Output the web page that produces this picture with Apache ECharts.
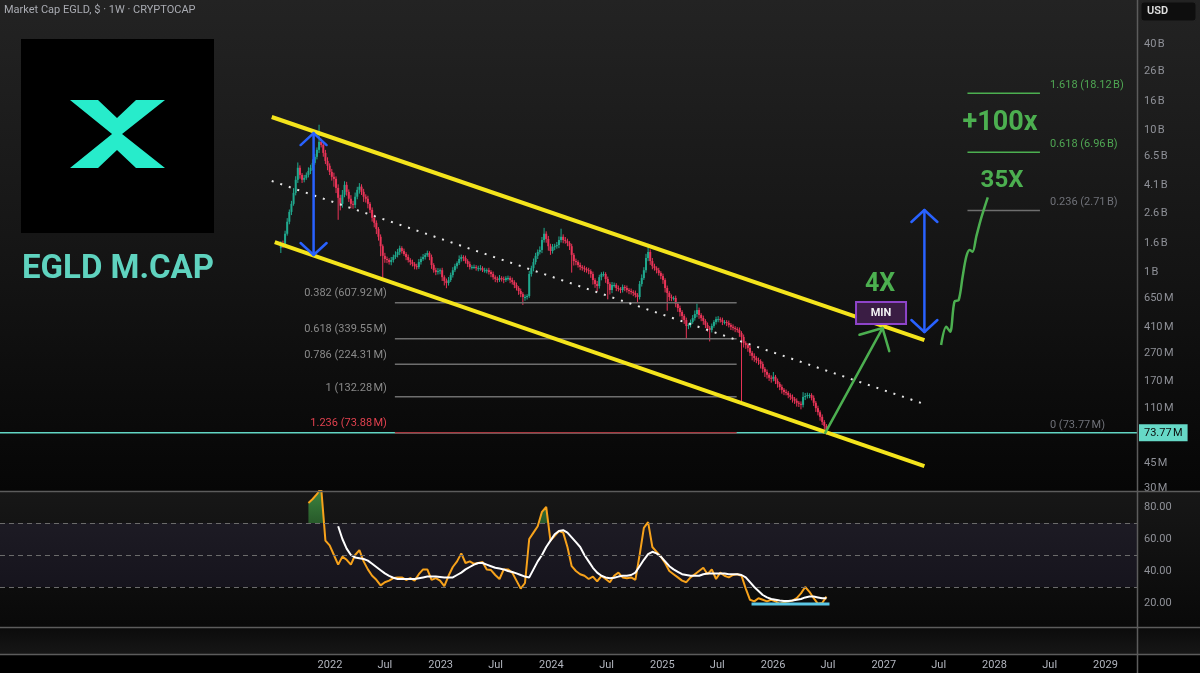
<!DOCTYPE html>
<html>
<head>
<meta charset="utf-8">
<title>EGLD M.CAP</title>
<script src="https://cdn.jsdelivr.net/npm/echarts@6/dist/echarts.min.js"></script>
<style>
  html, body { margin: 0; padding: 0; background: #000; }
  #chart { width: 1200px; height: 673px; }
</style>
</head>
<body>
<div id="chart"></div>
<script>
// weekly candles, market cap in millions of USD
var firstWeek = '2021-07-23';
var firstOpen = 1480;
var closes = [
  1600, 1550, 1860, 2260, 2650, 3020, 3610, 4460, 5420, 4830,
  4460, 4600, 4830, 5150, 5420, 5870, 6470, 7250, 8250, 7850,
  6900, 6060, 5600, 5070, 4680, 4530, 3910, 3330, 3020, 3500,
  4110, 3670, 3280, 3020, 2970, 3390, 3790, 3990, 3670, 3390,
  3280, 3020, 2740, 2410, 2220, 2010, 1770, 1520, 1300, 1235,
  1215, 1175, 1215, 1275, 1320, 1385, 1475, 1405, 1340, 1275,
  1215, 1175, 1140, 1100, 1085, 1175, 1235, 1275, 1320, 1360,
  1275, 1120, 1030, 1000, 1015, 1030, 920, 865, 836, 878,
  952, 1030, 1100, 1155, 1235, 1275, 1255, 1195, 1140, 1085,
  1085, 1085, 1065, 1065, 1065, 1030, 1030, 1030, 1000, 968,
  920, 893, 878, 907, 893, 878, 907, 907, 878, 850,
  810, 772, 735, 700, 667, 667, 678, 968, 1065, 1175,
  1300, 1385, 1430, 1680, 1860, 1710, 1520, 1405, 1500, 1520,
  1550, 1680, 1770, 1680, 1650, 1600, 1520, 1320, 1195, 1175,
  1120, 1085, 1065, 1050, 1030, 1015, 968, 878, 823, 797,
  920, 968, 968, 893, 823, 747, 810, 810, 772, 760,
  747, 785, 772, 747, 735, 723, 712, 689, 667, 823,
  907, 1030, 1255, 1385, 1195, 1100, 1065, 1030, 984, 937,
  878, 772, 712, 667, 656, 656, 595, 558, 523, 490,
  459, 417, 424, 445, 474, 506, 540, 498, 474, 452,
  424, 404, 391, 417, 445, 466, 466, 459, 445, 445,
  438, 424, 411, 404, 397, 391, 372, 349, 316, 306,
  292, 270, 257, 248, 240, 236, 225, 208, 198, 189,
  180, 177, 183, 171, 163, 155, 148, 143, 141, 136,
  132, 128, 124, 120, 118, 116, 132, 134, 136, 136,
  130, 120, 110, 103, 95.5, 88, 82.5, 73.77
];
// wick length beyond the body, in percent
var wickUp = [
  3, 4, 5, 6, 4, 5, 8, 6, 9, 4,
  3, 5, 4, 6, 5, 6, 5, 4, 32, 5,
  4, 5, 6, 4, 5, 7, 4, 6, 5, 8,
  6, 5, 4, 6, 5, 7, 5, 6, 4, 5,
  4, 5, 3, 4, 5, 4, 3, 4, 3, 5,
  4, 3, 5, 4, 6, 5, 4, 3, 4, 3,
  4, 3, 4, 3, 4, 5, 4, 5, 3, 4,
  3, 4, 3, 4, 5, 3, 4, 3, 4, 5,
  4, 5, 4, 3, 6, 4, 3, 4, 3, 4,
  3, 4, 3, 4, 5, 3, 4, 3, 4, 3,
  4, 3, 4, 5, 3, 4, 3, 4, 3, 4,
  3, 4, 3, 4, 3, 4, 3, 5, 4, 6,
  5, 4, 6, 5, 10, 4, 5, 4, 5, 4,
  5, 6, 14, 4, 5, 4, 3, 4, 3, 4,
  3, 4, 3, 4, 3, 4, 3, 4, 3, 5,
  4, 3, 4, 3, 4, 3, 5, 4, 3, 4,
  3, 4, 3, 4, 3, 4, 3, 4, 3, 5,
  6, 5, 7, 14, 4, 5, 4, 3, 4, 3,
  4, 3, 4, 3, 4, 3, 4, 3, 4, 3,
  3, 4, 3, 4, 5, 6, 11, 4, 3, 4,
  3, 4, 3, 4, 3, 4, 5, 3, 4, 3,
  3, 4, 3, 4, 3, 3, 4, 3, 4, 3,
  3, 4, 3, 4, 3, 4, 3, 4, 3, 4,
  3, 4, 8, 3, 4, 3, 4, 3, 4, 3,
  3, 4, 3, 4, 3, 4, 8, 5, 4, 3,
  3, 4, 3, 4, 3, 4, 3, 3
];
var wickDown = [
  8, 5, 4, 3, 4, 5, 3, 4, 5, 6,
  5, 4, 3, 4, 5, 4, 3, 4, 5, 4,
  6, 5, 7, 5, 6, 12, 8, 30, 10, 6,
  4, 6, 5, 7, 6, 5, 4, 6, 5, 8,
  6, 7, 5, 6, 7, 8, 6, 15, 30, 6,
  5, 4, 5, 4, 3, 4, 5, 4, 3, 5,
  4, 5, 4, 5, 4, 3, 4, 3, 4, 3,
  5, 6, 4, 5, 4, 5, 6, 7, 8, 4,
  3, 4, 3, 4, 3, 4, 5, 4, 5, 4,
  4, 3, 4, 5, 4, 3, 4, 5, 4, 5,
  4, 5, 4, 3, 4, 5, 3, 4, 5, 4,
  5, 4, 6, 5, 12, 6, 4, 3, 4, 5,
  4, 5, 4, 5, 4, 6, 7, 6, 4, 5,
  4, 5, 4, 5, 4, 5, 6, 25, 7, 5,
  4, 5, 4, 5, 4, 5, 6, 7, 6, 8,
  4, 5, 4, 6, 22, 7, 5, 4, 5, 4,
  5, 4, 5, 4, 5, 4, 5, 4, 9, 4,
  4, 3, 4, 5, 6, 5, 4, 5, 4, 5,
  6, 7, 25, 6, 5, 4, 5, 6, 7, 6,
  6, 18, 5, 4, 3, 4, 5, 6, 5, 6,
  5, 6, 17, 4, 3, 4, 5, 4, 5, 4,
  5, 4, 5, 4, 5, 4, 6, 65, 7, 6,
  6, 5, 7, 6, 5, 6, 7, 6, 8, 6,
  5, 6, 4, 5, 6, 5, 6, 5, 4, 5,
  5, 6, 5, 6, 5, 7, 4, 5, 4, 5,
  4, 5, 6, 5, 6, 5, 6, 3
];

// RSI (orange) read every 2 weeks, starting at candle 13
var rsiStart = 13;
var rsiValues = [
  82.5, 85, 88, 92, 59, 56, 50, 44, 49, 47,
  44, 50, 53, 46, 41, 37, 34.5, 31, 33, 34,
  35.6, 36, 36, 34.4, 35.5, 34, 38, 41, 41, 34.4,
  35.6, 34, 30.5, 37, 42.5, 46, 51, 45, 46, 44.5,
  45, 45.6, 41, 40.6, 37.5, 35, 41, 41, 39, 34,
  29, 32.5, 60, 64, 68, 77, 80, 59, 62, 65,
  64, 55, 43, 40, 38, 37, 35, 36.5, 33.5, 37,
  35, 33, 37, 39, 36, 35.5, 36, 34.5, 50, 67,
  70.5, 55, 52, 49, 45, 40, 38, 36, 34, 33,
  36, 38, 40, 42, 38, 41, 35, 39, 37, 36,
  37.5, 38, 37, 29, 22, 21, 23, 22, 21, 22,
  21, 19.5, 20.5, 21, 21.5, 23, 26, 30, 27, 23,
  19.5, 20, 24
];
// RSI moving average (white), same spacing, starting at the 8th RSI reading
var maOffset = 7;
var rsiMaValues = [
  68, 60, 54, 50, 48.5, 48, 47.5, 46.5, 44.5, 42.5,
  40.5, 38.5, 37, 35.8, 35, 35, 35, 35, 35, 35.5,
  36, 36.5, 36.5, 36.5, 36.3, 36, 36, 36, 37.5, 39,
  41, 42.5, 44, 45, 45, 44, 43, 42, 41.5, 41,
  40, 39.4, 38.5, 37.5, 36.5, 36, 41, 46, 50, 55,
  59, 63, 65, 65.5, 64, 61, 58, 55, 50, 46,
  42, 39, 37, 36, 35.5, 35.8, 36.5, 37, 37, 37.5,
  39, 43, 47, 50.5, 52, 51, 49, 46, 43, 41,
  39.5, 38, 37.5, 37, 37, 37, 38, 38.5, 38.5, 38.5,
  38.5, 38.5, 38, 38, 38, 37.5, 36, 33, 30, 27.5,
  25, 23.5, 22.5, 22, 21.5, 21.3, 21.3, 21.5, 22, 22.5,
  23.5, 24, 24, 23.5, 23, 23
];

var priceTicks = [40000, 26000, 16000, 10000, 6500, 4100, 2600, 1600, 1000, 650, 410, 270, 170, 110, 45, 30];
var rsiTicks = [20, 40, 60, 80];
var timeTicks = ['2022-01-01', '2022-07-01', '2023-01-01', '2023-07-01', '2024-01-01', '2024-07-01',
  '2025-01-01', '2025-07-01', '2026-01-01', '2026-07-01', '2027-01-01', '2027-07-01',
  '2028-01-01', '2028-07-01', '2029-01-01'];
var lastPrice = 73.77;
var rsiOverbought = 70;

// fib retracement on the history
var fibLowLevels = ['0.382', '0.618', '0.786', '1', '1.236'];
var fibLowValues = [607.92, 339.55, 224.31, 132.28, 73.88];
var fibLowRange = ['2022-08-03', '2025-09-03'];
// fib targets on the projection
var fibHighLevels = ['1.618', '0.618', '0.236', '0'];
var fibHighValues = [18120, 6960, 2710, 73.77];
var fibHighRange = ['2027-10-04', '2028-05-30'];

// drawings
var channelTop = [['2021-06-23', 12350], ['2027-05-15', 332]];
var channelBottom = [['2021-07-03', 1626], ['2027-05-15', 43]];
var channelMid = [['2021-06-23', 4375], ['2027-05-05', 119.5]];
var rangeArrows = [['2021-11-08', 1317, 9520], ['2027-05-15', 378, 2733]];
var bounceArrow = [['2026-06-22', 73.77], ['2026-12-28', 403]];
var projection = [
  ['2027-07-09', 306], ['2027-07-26', 412], ['2027-08-08', 380], ['2027-08-22', 618],
  ['2027-09-05', 635], ['2027-09-18', 927], ['2027-09-30', 1281], ['2027-10-11', 1430],
  ['2027-10-21', 1390], ['2027-11-02', 1773], ['2027-11-18', 2388], ['2027-12-10', 3357]
];
var minBox = ['2026-12-23', 514];
var rsiSupport = [['2025-10-22', 19.4], ['2026-07-06', 19.4]];

var LOG = Math.log10;
var WEEK = 7 * 864e5;
function ts(s) { var p = s.split('-'); return Date.UTC(+p[0], +p[1] - 1, +p[2]); }
function capLabel(m) {
  if (m >= 1000) return (Math.round(m / 100) / 10) + '\u202FB';
  return Math.round(m) + '\u202FM';
}
function capExact(m) {
  return m >= 1000 ? (m / 1000).toFixed(2) + '\u202FB' : m.toFixed(2) + '\u202FM';
}

var t0 = ts(firstWeek);
var candleData = [];
var prev = firstOpen;
for (var i = 0; i < closes.length; i++) {
  var o = prev, c = closes[i];
  var hi = Math.max(o, c) * (1 + wickUp[i] / 100);
  var lo = Math.min(o, c) * (1 - wickDown[i] / 100);
  candleData.push([t0 + i * WEEK, LOG(o), LOG(c), LOG(lo), LOG(hi)]);
  prev = c;
}
var rsiData = rsiValues.map(function (v, k) { return [t0 + (rsiStart + 2 * k) * WEEK, v]; });
var maData = rsiMaValues.map(function (v, k) { return [t0 + (rsiStart + 2 * (k + maOffset)) * WEEK, v]; });
function pts(list) { return list.map(function (p) { return [ts(p[0]), LOG(p[1])]; }); }

// x axes are plain value axes holding UTC timestamps
var T_MIN = ts('2019-01-09'), T_MAX = ts('2029-04-15');
var FONT = 'Roboto, "Noto Sans", sans-serif';
var UP = '#20a98e', DOWN = '#ea3458';
var GREEN = '#4caf50', BLUE = '#2962ff', YELLOW = '#f4e41c';

var chart = echarts.init(document.getElementById('chart'));
chart.setOption({
  animation: false,
  backgroundColor: '#000',
  textStyle: { fontFamily: FONT },
  grid: [
    { left: 0, right: 63, top: 0, height: 491 },
    { left: 0, right: 63, top: 491, height: 136 }
  ],
  xAxis: [
    { type: 'value', gridIndex: 0, min: T_MIN, max: T_MAX, show: false },
    {
      type: 'value', gridIndex: 1, min: T_MIN, max: T_MAX,
      axisLine: { show: false }, axisTick: { show: false }, splitLine: { show: false },
      axisLabel: {
        customValues: timeTicks.map(ts), color: '#b2b5be', fontSize: 11, margin: 33,
        formatter: function (v) {
          var d = new Date(v);
          return d.getUTCMonth() === 0 ? String(d.getUTCFullYear()) : 'Jul';
        }
      }
    }
  ],
  yAxis: [
    {
      type: 'value', gridIndex: 0, position: 'right', min: 1.458, max: 4.9155,
      axisLine: { show: false }, axisTick: { show: false }, splitLine: { show: false },
      axisLabel: {
        customValues: priceTicks.map(LOG), color: '#8f9198', fontSize: 11, margin: 7, padding: [4, 0, 0, 0],
        formatter: function (v) { return capLabel(Math.pow(10, v)); }
      }
    },
    {
      type: 'value', gridIndex: 1, position: 'right', min: 5, max: 90,
      axisLine: { show: false }, axisTick: { show: false }, splitLine: { show: false },
      axisLabel: {
        customValues: rsiTicks, color: '#8f9198', fontSize: 11, margin: 7, padding: [3, 0, 0, 0],
        formatter: function (v) { return v.toFixed(2); }
      }
    }
  ],
  series: [
    {
      // weekly candles: wick line + body rect
      type: 'custom', xAxisIndex: 0, yAxisIndex: 0, z: 2, silent: true,
      data: candleData,
      encode: { x: 0, y: [1, 2, 3, 4] },
      renderItem: function (params, api) {
        var x = api.value(0);
        var o = api.coord([x, api.value(1)]), c = api.coord([x, api.value(2)]);
        var l = api.coord([x, api.value(3)]), h = api.coord([x, api.value(4)]);
        var col = api.value(2) >= api.value(1) ? UP : DOWN;
        var top = Math.min(o[1], c[1]), bot = Math.max(o[1], c[1]);
        return { type: 'group', children: [
          { type: 'line', shape: { x1: h[0], y1: h[1], x2: l[0], y2: l[1] }, style: { stroke: col, lineWidth: 1 } },
          { type: 'rect', shape: { x: o[0] - 1, y: top, width: 2, height: Math.max(bot - top, 1) }, style: { fill: col } }
        ] };
      }
    },
    {
      // last value line
      type: 'line', xAxisIndex: 0, yAxisIndex: 0, z: 3, silent: true, symbol: 'none',
      data: [[T_MIN, LOG(lastPrice)], [T_MAX, LOG(lastPrice)]],
      lineStyle: { color: '#62d6c4', width: 1.5 },
      endLabel: {
        show: true, distance: 2, color: '#0b0b0b', backgroundColor: '#66d9c7',
        padding: [3, 5], fontSize: 11, fontFamily: FONT,
        formatter: function () { return lastPrice.toFixed(2) + '\u202FM'; }
      }
    },
    { type: 'line', xAxisIndex: 0, yAxisIndex: 0, z: 5, silent: true, symbol: 'none',
      data: pts(channelTop), lineStyle: { color: YELLOW, width: 4 } },
    { type: 'line', xAxisIndex: 0, yAxisIndex: 0, z: 5, silent: true, symbol: 'none',
      data: pts(channelBottom), lineStyle: { color: YELLOW, width: 4 } },
    { type: 'line', xAxisIndex: 0, yAxisIndex: 0, z: 5, silent: true, symbol: 'none',
      data: pts(channelMid), lineStyle: { color: '#e6e6e6', width: 2, type: [2, 7] } },
    { type: 'line', xAxisIndex: 0, yAxisIndex: 0, z: 5, silent: true, symbol: 'none', smooth: 0.3,
      data: pts(projection), lineStyle: { color: GREEN, width: 2.5 } },
    {
      // lower fib retracement
      type: 'custom', xAxisIndex: 0, yAxisIndex: 0, z: 4, silent: true,
      data: fibLowValues.map(function (v) { return [ts(fibLowRange[0]), LOG(v)]; }),
      renderItem: function (params, api) {
        var k = params.dataIndex, v = fibLowValues[k];
        var a = api.coord([ts(fibLowRange[0]), LOG(v)]);
        var b = api.coord([ts(fibLowRange[1]), LOG(v)]);
        var red = fibLowLevels[k] === '1.236';
        return { type: 'group', children: [
          { type: 'line', shape: { x1: a[0], y1: a[1], x2: b[0], y2: b[1] },
            style: { stroke: red ? '#a5373f' : '#6e6e6e', lineWidth: 1.5 } },
          { type: 'text', x: a[0] - 8, y: a[1] - 9,
            style: { text: fibLowLevels[k] + ' (' + capExact(v) + ')', align: 'right', verticalAlign: 'middle',
              fill: red ? '#e0414f' : '#8a8a8a', font: '11px ' + FONT } }
        ] };
      }
    },
    {
      // upper fib targets
      type: 'custom', xAxisIndex: 0, yAxisIndex: 0, z: 4, silent: true,
      data: fibHighValues.map(function (v) { return [ts(fibHighRange[0]), LOG(v)]; }),
      renderItem: function (params, api) {
        var k = params.dataIndex, v = fibHighValues[k];
        var a = api.coord([ts(fibHighRange[0]), LOG(v)]);
        var b = api.coord([ts(fibHighRange[1]), LOG(v)]);
        var lvl = fibHighLevels[k];
        var green = lvl === '1.618' || lvl === '0.618';
        var kids = [
          { type: 'text', x: b[0] + 10, y: b[1] - 8,
            style: { text: lvl + ' (' + capExact(v) + ')', align: 'left', verticalAlign: 'middle',
              fill: green ? '#4fa653' : '#6f7178', font: '11px ' + FONT } }
        ];
        if (lvl !== '0') {
          kids.push({ type: 'line', shape: { x1: a[0], y1: a[1], x2: b[0], y2: b[1] },
            style: { stroke: green ? '#4caf50' : '#6e6e6e', lineWidth: 1.5 } });
        }
        return { type: 'group', children: kids };
      }
    },
    {
      // blue range arrows
      type: 'custom', xAxisIndex: 0, yAxisIndex: 0, z: 6, silent: true,
      data: rangeArrows.map(function (r) { return [ts(r[0]), LOG(r[1]), LOG(r[2])]; }),
      renderItem: function (params, api) {
        var lo = api.coord([api.value(0), api.value(1)]);
        var hi = api.coord([api.value(0), api.value(2)]);
        var st = { stroke: BLUE, lineWidth: 2.5, fill: null, lineCap: 'round', lineJoin: 'round' };
        return { type: 'group', children: [
          { type: 'polyline', shape: { points: [lo, hi] }, style: st },
          { type: 'polyline', shape: { points: [[hi[0] - 13, hi[1] + 12], hi, [hi[0] + 13, hi[1] + 12]] }, style: st },
          { type: 'polyline', shape: { points: [[lo[0] - 13, lo[1] - 12], lo, [lo[0] + 13, lo[1] - 12]] }, style: st }
        ] };
      }
    },
    {
      // green bounce arrow
      type: 'custom', xAxisIndex: 0, yAxisIndex: 0, z: 6, silent: true,
      data: [[ts(bounceArrow[0][0]), LOG(bounceArrow[0][1])]],
      renderItem: function (params, api) {
        var p0 = api.coord([ts(bounceArrow[0][0]), LOG(bounceArrow[0][1])]);
        var p1 = api.coord([ts(bounceArrow[1][0]), LOG(bounceArrow[1][1])]);
        var ang = Math.atan2(p1[1] - p0[1], p1[0] - p0[0]) + Math.PI;
        var L = 24, s = 0.785;
        var st = { stroke: GREEN, lineWidth: 2.5, fill: null, lineCap: 'round', lineJoin: 'round' };
        return { type: 'group', children: [
          { type: 'polyline', shape: { points: [p0, p1] }, style: st },
          { type: 'polyline', shape: { points: [
            [p1[0] + L * Math.cos(ang - s), p1[1] + L * Math.sin(ang - s)], p1,
            [p1[0] + L * Math.cos(ang + s), p1[1] + L * Math.sin(ang + s)]] }, style: st }
        ] };
      }
    },
    {
      // MIN box
      type: 'custom', xAxisIndex: 0, yAxisIndex: 0, z: 6, silent: true,
      data: [[ts(minBox[0]), LOG(minBox[1])]],
      renderItem: function (params, api) {
        var p = api.coord([api.value(0), api.value(1)]);
        return { type: 'group', children: [
          { type: 'rect', shape: { x: p[0] - 25, y: p[1] - 11, width: 50, height: 22 },
            style: { fill: '#3a1d44', stroke: '#8e44c9', lineWidth: 2 } },
          { type: 'text', x: p[0], y: p[1],
            style: { text: 'MIN', align: 'center', verticalAlign: 'middle', fill: '#f2f2f2', font: 'bold 11px ' + FONT } }
        ] };
      }
    },
    {
      // RSI overbought fill: area between the RSI line and 70, kept only above 70
      type: 'custom', xAxisIndex: 1, yAxisIndex: 1, z: 2, silent: true,
      data: [[rsiData[0][0], rsiOverbought]],
      renderItem: function (params, api) {
        var base = api.coord([rsiData[0][0], rsiOverbought])[1];
        var line = rsiData.map(function (d) { return api.coord(d); });
        var poly = [[line[0][0], base]].concat(line, [[line[line.length - 1][0], base]]);
        var cs = params.coordSys;
        return {
          type: 'polygon', shape: { points: poly },
          style: { fill: new echarts.graphic.LinearGradient(0, 0, 0, 1, [
            { offset: 0, color: 'rgba(76,175,80,0.75)' }, { offset: 0.4, color: 'rgba(46,125,50,0.55)' },
            { offset: 1, color: 'rgba(46,125,50,0.2)' }]) },
          clipPath: { type: 'rect', shape: { x: cs.x, y: cs.y, width: cs.width, height: base - cs.y } }
        };
      }
    },
    {
      type: 'line', xAxisIndex: 1, yAxisIndex: 1, z: 3, silent: true, symbol: 'none',
      data: rsiData, lineStyle: { color: '#f7a21b', width: 2 },
      markArea: { silent: true, itemStyle: { color: 'rgba(120, 100, 200, 0.09)' },
        data: [[{ yAxis: 30 }, { yAxis: 70 }]] },
      markLine: { silent: true, symbol: 'none', label: { show: false },
        lineStyle: { color: '#6b6b6b', type: [5, 4], width: 1 },
        data: [{ yAxis: 70 }, { yAxis: 50 }, { yAxis: 30 }] }
    },
    {
      type: 'line', xAxisIndex: 1, yAxisIndex: 1, z: 3, silent: true, symbol: 'none',
      data: maData, lineStyle: { color: '#ffffff', width: 2 }
    },
    {
      type: 'line', xAxisIndex: 1, yAxisIndex: 1, z: 4, silent: true, symbol: 'none',
      data: rsiSupport.map(function (p) { return [ts(p[0]), p[1]]; }),
      lineStyle: { color: '#5cc8e6', width: 3 }
    }
  ],
  graphic: [
    { type: 'rect', z: -10, shape: { x: 0, y: 0, width: 1200, height: 491 },
      style: { fill: new echarts.graphic.LinearGradient(0, 0, 0, 1, [
        { offset: 0, color: '#232323' }, { offset: 0.55, color: '#141414' }, { offset: 1, color: '#060606' }]) } },
    { type: 'rect', z: -10, shape: { x: 0, y: 491, width: 1200, height: 136 },
      style: { fill: new echarts.graphic.LinearGradient(0, 0, 0, 1, [
        { offset: 0, color: '#171717' }, { offset: 1, color: '#090909' }]) } },
    { type: 'rect', z: -10, shape: { x: 0, y: 627, width: 1200, height: 27 },
      style: { fill: new echarts.graphic.LinearGradient(0, 0, 0, 1, [
        { offset: 0, color: '#0b0b0b' }, { offset: 1, color: '#161616' }]) } },
    { type: 'line', z: 50, shape: { x1: 0, y1: 491.5, x2: 1200, y2: 491.5 }, style: { stroke: '#5c5c5c', lineWidth: 1.5 } },
    { type: 'line', z: 50, shape: { x1: 0, y1: 627.5, x2: 1200, y2: 627.5 }, style: { stroke: '#5c5c5c', lineWidth: 1.5 } },
    { type: 'line', z: 50, shape: { x1: 0, y1: 654.5, x2: 1200, y2: 654.5 }, style: { stroke: '#5c5c5c', lineWidth: 1.5 } },
    { type: 'line', z: 50, shape: { x1: 1137.5, y1: 0, x2: 1137.5, y2: 673 }, style: { stroke: '#5c5c5c', lineWidth: 1.5 } },
    { type: 'text', z: 100, x: 4, y: 10,
      style: { text: 'Market Cap EGLD, $ \u00b7 1W \u00b7 CRYPTOCAP', fill: '#a9abb2', font: '11px ' + FONT, verticalAlign: 'middle' } },
    { type: 'rect', z: 100, shape: { x: 1141, y: 2, width: 55, height: 19, r: 3 }, style: { fill: '#0e0e0e', stroke: '#222' } },
    { type: 'text', z: 101, x: 1147, y: 11.5,
      style: { text: 'USD', fill: '#e0e0e0', font: '600 11px ' + FONT, verticalAlign: 'middle' } },
    { type: 'rect', z: 100, shape: { x: 21, y: 39, width: 193, height: 194 }, style: { fill: '#000' } },
    { type: 'polygon', z: 101, shape: { points: [[70, 100], [98, 100], [117, 118], [136, 100], [165, 100], [117, 138]] },
      style: { fill: '#27eccb' } },
    { type: 'polygon', z: 101, shape: { points: [[70, 168], [98, 168], [117, 150], [136, 168], [165, 168], [117, 130]] },
      style: { fill: '#27eccb' } },
    { type: 'text', z: 100, x: 22, y: 270,
      style: { text: 'EGLD M.CAP', fill: '#5fd3bf', font: 'bold 33px ' + FONT, verticalAlign: 'middle' } },
    { type: 'text', z: 100, x: 880, y: 285,
      style: { text: '4X', fill: GREEN, font: 'bold 25px ' + FONT, align: 'center', verticalAlign: 'middle' } },
    { type: 'text', z: 100, x: 1002, y: 181,
      style: { text: '35X', fill: GREEN, font: 'bold 24px ' + FONT, align: 'center', verticalAlign: 'middle' } },
    { type: 'text', z: 100, x: 1000, y: 123,
      style: { text: '+100x', fill: GREEN, font: 'bold 27px ' + FONT, align: 'center', verticalAlign: 'middle' } }
  ]
});
window.addEventListener('resize', chart.resize);
</script>
</body>
</html>
